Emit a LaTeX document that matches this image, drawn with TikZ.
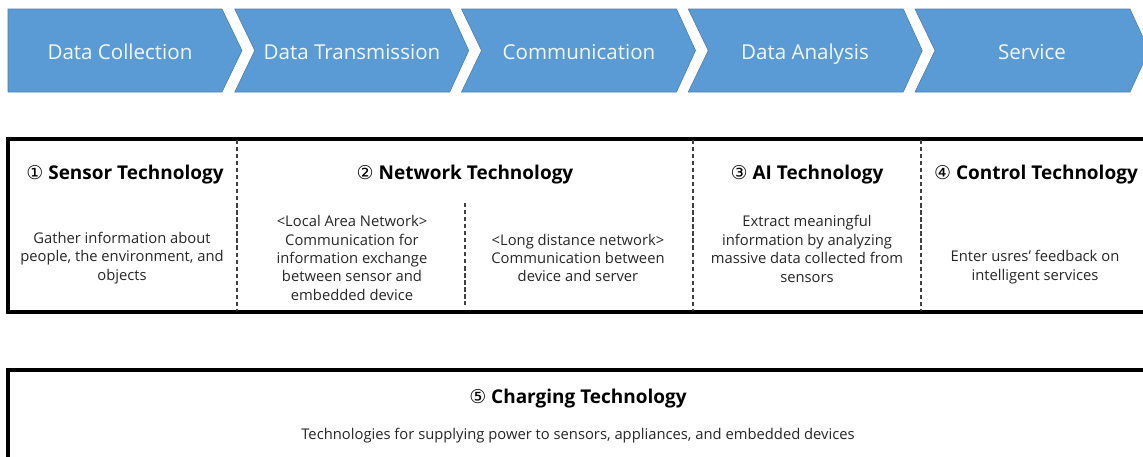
\documentclass[tikz,border=0pt]{standalone}
\usepackage{fontspec}
\setmainfont{Open Sans}
\newfontfamily\circfont{DejaVu Sans}
\usepackage{xcolor}
\usetikzlibrary{positioning}

\definecolor{stageblue}{HTML}{5B9BD5}
\definecolor{stageedge}{HTML}{4A7EB0}
\definecolor{bodygray}{HTML}{262626}

\begin{document}
\begin{tikzpicture}[
    x=0.025cm,y=-0.025cm,
    stage/.style={fill=stageblue,draw=stageedge,line width=0.4pt},
    stagelabel/.style={text=white!92!stageblue,text height=10pt,
      text depth=3pt,font=\fontsize{14.6}{16}\selectfont},
    frame/.style={line width=2.3pt,black},
    divider/.style={black!75,line width=0.8pt,dash pattern=on 3pt off 2pt},
    heading/.style={font=\fontsize{13.5}{15}\selectfont\bfseries,text=black},
    body/.style={font=\fontsize{10.5}{13.1}\selectfont,text=bodygray,
      align=center,inner sep=0pt}
  ]
    \path[use as bounding box] (0,0) rectangle (1143,456);
    \clip (0,0) rectangle (1143,456);

    % Process chain: five chevrons, the first one with a flat back
    \path[stage] (8,9) -- (222,9) -- (242,50.5) -- (222,92) -- (8,92) -- cycle;
    \foreach \x in {234.75,461.5,688.25,915}
      \path[stage] (\x,9) -- ++(215,0) -- ++(19,41.5) -- ++(-19,41.5)
        -- ++(-215,0) -- ++(20,-41.5) -- cycle;
    \node[stagelabel] (collect) at (120,55) {Data Collection};
    \node[stagelabel] (transmit) at (352,55) {Data Transmission};
    \node[stagelabel] (comm) at (579,55) {Communication};
    \node[stagelabel] (analysis) at (805,55) {Data Analysis};
    \node[stagelabel] (service) at (1032,55) {Service};

    % Key technologies, one column per stage
    \draw[frame] (8,139) rectangle (1160,312);
    \draw[divider] (237,140) -- (237,311);
    \draw[divider] (465,203) -- (465,305);
    \draw[divider] (693,140) -- (693,311);
    \draw[divider] (921,140) -- (921,311);

    \node[heading] (sensor) at (125,175)
      {{\circfont\mdseries ①} Sensor\ Technology};
    \node[heading] (network) at (465,175)
      {{\circfont\mdseries ②} Network Technology};
    \node[heading] (ai) at (807,175)
      {{\circfont\mdseries ③} AI Technology};
    \node[heading] (control) at (1036,175)
      {{\circfont\mdseries ④} Control Technology};

    \node[body] (sensortxt) at (122,258)
      {Gather information about\\people, the environment, and\\objects};
    \node[body] (lan) at (352,258)
      {<Local Area Network>\\Communication for\\information exchange\\
       between sensor and\\embedded device};
    \node[body] (wan) at (578,258)
      {<Long distance network>\\Communication between\\device and server};
    \node[body] (aitxt) at (807,249)
      {Extract meaningful\\information by analyzing\\
       massive data collected from\\sensors};
    \node[body] (controltxt) at (1035,267)
      {Enter usres' feedback on\\intelligent services};

    % Charging spans the whole chain
    \draw[frame] (8,370) rectangle (1160,480);
    \node[heading] (charging) at (578,399)
      {{\circfont\mdseries ⑤} Charging Technology};
    \node[body] (chargingtxt) at (578,436)
      {Technologies for supplying power to sensors, appliances, and embedded devices};
  \end{tikzpicture}
\end{document}
